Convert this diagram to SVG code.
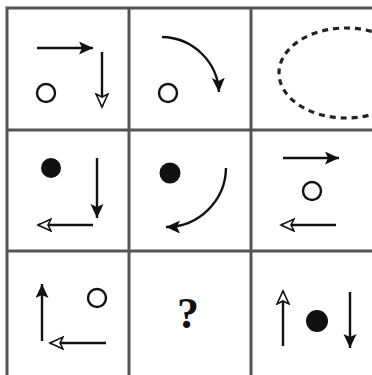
<svg xmlns="http://www.w3.org/2000/svg" width="372" height="375" viewBox="0 0 372 375">
<defs>
<style>
.grid{stroke:#555;stroke-width:3;fill:none}
.ln{stroke:#111;stroke-width:2.4;fill:none}
.oc{stroke:#111;stroke-width:2.4;fill:#fff}
.fc{fill:#111}
.dash{stroke:#222;stroke-width:3.2;fill:none;stroke-dasharray:6 5}
.q{font-family:"Liberation Serif",serif;font-weight:bold;font-size:44px;fill:#111}
</style>
<marker id="fa" markerUnits="userSpaceOnUse" markerWidth="16" markerHeight="14" refX="14" refY="6.5" orient="auto">
<path d="M0,0 L14,6.5 L0,13 L3,6.5 Z" fill="#111"/>
</marker>
<marker id="ha" markerUnits="userSpaceOnUse" markerWidth="18" markerHeight="16" refX="14" refY="7" orient="auto">
<path d="M1,1 L14,7 L1,13 L4,7 Z" fill="#fff" stroke="#111" stroke-width="1.6" stroke-linejoin="miter"/>
</marker>
</defs>
<rect width="372" height="375" fill="#fff"/>
<g id="grid">
<rect class="grid" x="7" y="8" width="370" height="372"/>
<line class="grid" x1="129" y1="8" x2="129" y2="375"/>
<line class="grid" x1="251" y1="8" x2="251" y2="375"/>
<line class="grid" x1="7" y1="130" x2="375" y2="130"/>
<line class="grid" x1="7" y1="251" x2="375" y2="251"/>
</g>
<g id="cell1">
<line class="ln" x1="37" y1="48" x2="93" y2="48" marker-end="url(#fa)"/>
<line class="ln" x1="102" y1="52" x2="102" y2="107" marker-end="url(#ha)"/>
<circle class="oc" cx="46" cy="93" r="9"/>
</g>
<g id="cell2">
<path class="ln" d="M162,37 A58 58 0 0 1 219 92" marker-end="url(#fa)"/>
<circle class="oc" cx="168" cy="93" r="9"/>
</g>
<g id="cell3">
<ellipse class="dash" cx="346" cy="73" rx="67" ry="45"/>
</g>
<g id="cell4">
<circle class="fc" cx="51" cy="168" r="10"/>
<line class="ln" x1="97" y1="158" x2="97" y2="218" marker-end="url(#fa)"/>
<line class="ln" x1="93" y1="225" x2="38" y2="225" marker-end="url(#ha)"/>
</g>
<g id="cell5">
<circle class="fc" cx="170" cy="173" r="10.5"/>
<path class="ln" d="M226,168 A60 60 0 0 1 166 227" marker-end="url(#fa)"/>
</g>
<g id="cell6">
<line class="ln" x1="283" y1="158" x2="339" y2="158" marker-end="url(#fa)"/>
<circle class="oc" cx="312" cy="191" r="9"/>
<line class="ln" x1="336" y1="225" x2="281" y2="225" marker-end="url(#ha)"/>
</g>
<g id="cell7">
<line class="ln" x1="42" y1="341" x2="42" y2="284" marker-end="url(#fa)"/>
<circle class="oc" cx="97" cy="298" r="9"/>
<line class="ln" x1="106" y1="343" x2="50" y2="343" marker-end="url(#ha)"/>
</g>
<g id="cell8">
<text class="q" x="188" y="328" text-anchor="middle">?</text>
</g>
<g id="cell9">
<line class="ln" x1="283" y1="346" x2="283" y2="291" marker-end="url(#ha)"/>
<circle class="fc" cx="317" cy="321" r="11"/>
<line class="ln" x1="350" y1="292" x2="350" y2="348" marker-end="url(#fa)"/>
</g>
</svg>
